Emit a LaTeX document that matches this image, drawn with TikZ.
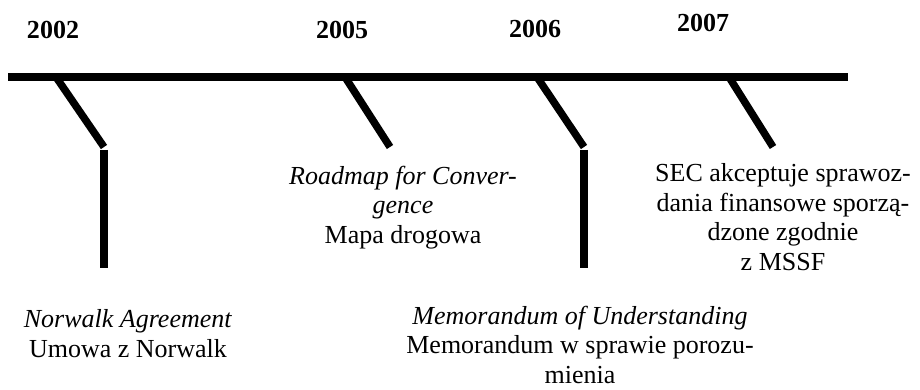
\documentclass[tikz,border=0pt]{standalone}
\usepackage{fontspec}
\setmainfont{Liberation Serif}
\usepackage{tikz}
\tikzset{
  every picture/.append style={line width=0.6pt},
  every node/.append style={font=\fontsize{26}{29.5}\selectfont},
}

\begin{document}
\begin{tikzpicture}[x=1pt, y=-1pt,
  axis/.style={draw=black, line width=7.5pt},
  tick/.style={draw=black, line width=7.5pt},
  year/.style={font=\fontsize{26}{29.5}\selectfont\bfseries,
               anchor=base, inner sep=0pt},
  event/.style={align=center, anchor=base, inner sep=0pt}
]
\useasboundingbox (0,0) rectangle (920,390);

% Timeline axis
\coordinate (axisL) at (8,77);
\coordinate (axisR) at (848,77);
\draw[axis] (axisL) -- (axisR);

% Tick points on the axis and their bends
\coordinate (t2002) at (56,77);
\coordinate (b2002) at (104,147);
\coordinate (v2002) at (104,150);
\coordinate (f2002) at (104,268);
\coordinate (t2005) at (345,77);
\coordinate (b2005) at (390,147);
\coordinate (t2006) at (537,77);
\coordinate (b2006) at (584,147);
\coordinate (v2006) at (584,150);
\coordinate (f2006) at (584,268);
\coordinate (t2007) at (729,77);
\coordinate (b2007) at (773,147);

% Ticks
\draw[tick] (t2002) -- (b2002);
\draw[tick] (v2002) -- (f2002);
\draw[tick] (t2005) -- (b2005);
\draw[tick] (t2006) -- (b2006);
\draw[tick] (v2006) -- (f2006);
\draw[tick] (t2007) -- (b2007);

% Years
\node[year] (y2002) at (53,39) {2002};
\node[year] (y2005) at (342,39) {2005};
\node[year] (y2006) at (535,38) {2006};
\node[year] (y2007) at (703,32) {2007};

% Events (placed by the baseline of their last line)
\node[event] (roadmap) at (403,243) {\textit{Roadmap for Conver-}\\\textit{gence}\\Mapa drogowa};
\node[event] (sec) at (783,270) {SEC akceptuje sprawoz-\\dania finansowe sporzą-\\dzone zgodnie\\z MSSF};
\node[event] (norwalk) at (128,357) {\textit{Norwalk Agreement}\\Umowa z Norwalk};
\node[event] (memo) at (580,383) {\textit{Memorandum of Understanding}\\Memorandum w sprawie porozu-\\mienia};

\end{tikzpicture}
\end{document}
